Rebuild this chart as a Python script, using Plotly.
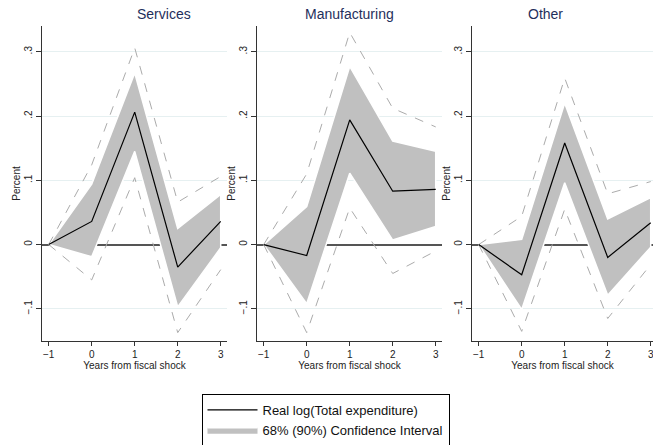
import plotly.graph_objects as go

horizons = [-1, 0, 1, 2, 3]
panels = ["Services", "Manufacturing", "Other"]

services_est = [0, 0.036, 0.206, -0.035, 0.036]
services_lo68 = [0, -0.019, 0.145, -0.097, -0.005]
services_hi68 = [0, 0.094, 0.267, 0.025, 0.078]
services_lo90 = [0, -0.055, 0.104, -0.137, -0.039]
services_hi90 = [0, 0.124, 0.306, 0.066, 0.106]

manuf_est = [0, -0.017, 0.194, 0.083, 0.086]
manuf_lo68 = [0, -0.092, 0.111, 0.007, 0.028]
manuf_hi68 = [0, 0.059, 0.277, 0.161, 0.145]
manuf_lo90 = [0, -0.137, 0.057, -0.045, -0.010]
manuf_hi90 = [0, 0.110, 0.330, 0.212, 0.183]

other_est = [0, -0.047, 0.158, -0.020, 0.034]
other_lo68 = [0, -0.101, 0.096, -0.079, -0.004]
other_hi68 = [0, 0.008, 0.220, 0.040, 0.073]
other_lo90 = [0, -0.135, 0.055, -0.115, -0.031]
other_hi90 = [0, 0.044, 0.259, 0.079, 0.098]

y_ticks = [-0.1, 0, 0.1, 0.2, 0.3]
y_ticklabels = ["\u2212.1", "0", ".1", ".2", ".3"]
x_ticklabels = ["\u22121", "0", "1", "2", "3"]

data = [
    (services_est, services_lo68, services_hi68, services_lo90, services_hi90),
    (manuf_est, manuf_lo68, manuf_hi68, manuf_lo90, manuf_hi90),
    (other_est, other_lo68, other_hi68, other_lo90, other_hi90),
]

FONT = "Liberation Sans, Arial, sans-serif"
W, H = 653, 445
ML, MR, MT, MB = 42, 0, 26, 104
PW = W - ML - MR
PH = H - MT - MB
domains = [[0, 185 / PW], [215 / PW, 400 / PW], [430 / PW, 1.0]]
xranges = [[-1.156, 3.146], [-1.156, 3.146], [-1.156, 3.053]]

fig = go.Figure()
for i, (est, lo68, hi68, lo90, hi90) in enumerate(data):
    ax = "" if i == 0 else str(i + 1)
    xr, yr = "x" + ax, "y" + ax
    show = i == 0
    fig.add_trace(go.Scatter(
        x=horizons + horizons[::-1], y=hi68 + lo68[::-1],
        fill="toself", fillcolor="#C0C0C0", mode="lines",
        line=dict(color="white", width=1.5),
        name="68% (90%) Confidence Interval", showlegend=show, legendrank=2,
        xaxis=xr, yaxis=yr, hoverinfo="skip"))
    for band in (hi90, lo90):
        fig.add_trace(go.Scatter(
            x=horizons, y=band, mode="lines",
            line=dict(color="#ABABAB", width=1, dash="dash"),
            showlegend=False, xaxis=xr, yaxis=yr))
    fig.add_trace(go.Scatter(
        x=horizons, y=est, mode="lines",
        line=dict(color="black", width=1.2),
        name="Real log(Total expenditure)", showlegend=show, legendrank=1,
        xaxis=xr, yaxis=yr))

    xkey = "xaxis" + ax
    ykey = "yaxis" + ax
    fig.update_layout(**{
        xkey: dict(
            domain=domains[i], range=xranges[i], anchor=yr, automargin=False,
            tickvals=horizons, ticktext=x_ticklabels,
            ticks="outside", ticklen=4, tickcolor="#333", tickwidth=1,
            ticklabeloverflow="allow",
            showline=True, linecolor="#333", linewidth=1,
            showgrid=False, zeroline=False,
            tickfont=dict(size=10, color="#222", family=FONT),
            title=dict(text="Years from fiscal shock", standoff=0,
                       font=dict(size=10, color="#222", family=FONT)),
        ),
        ykey: dict(
            domain=[0, 1], range=[-0.15, 0.34], anchor=xr, automargin=False,
            tickvals=y_ticks, ticktext=y_ticklabels, tickangle=-90,
            ticks="outside", ticklen=5, tickcolor="#333", tickwidth=1,
            showline=True, linecolor="#333", linewidth=1,
            showgrid=True, gridcolor="#E6F0F1", gridwidth=1,
            zeroline=True, zerolinecolor="#555555", zerolinewidth=1.5,
            tickfont=dict(size=10, color="#222", family=FONT),
            title=dict(text="Percent", standoff=0,
                       font=dict(size=10, color="#222", family=FONT)),
        ),
    })
    fig.add_annotation(
        x=(domains[i][0] + domains[i][1]) / 2 if i < 2 else (430 + 92.5) / PW,
        y=1, xref="paper", yref="paper", yanchor="bottom", yshift=2,
        text=panels[i], showarrow=False,
        font=dict(size=14, color="#1F2F5C", family=FONT))

fig.update_layout(
    width=W, height=H,
    margin=dict(l=ML, r=MR, t=MT, b=MB, autoexpand=False),
    paper_bgcolor="white", plot_bgcolor="white",
    font=dict(family=FONT, size=10, color="#222"),
    legend=dict(
        x=(325.5 - ML) / PW, xanchor="center", y=-(394 - (H - MB)) / PH,
        yanchor="top", orientation="v",
        bordercolor="black", borderwidth=1, bgcolor="white",
        font=dict(size=13, color="#111", family=FONT),
        itemwidth=50, tracegroupgap=0,
    ),
    showlegend=True,
)

fig.write_html(
    "out.html",
    config={"displayModeBar": False},
    post_script="document.body.style.margin='0';document.body.style.overflow='hidden';",
)
